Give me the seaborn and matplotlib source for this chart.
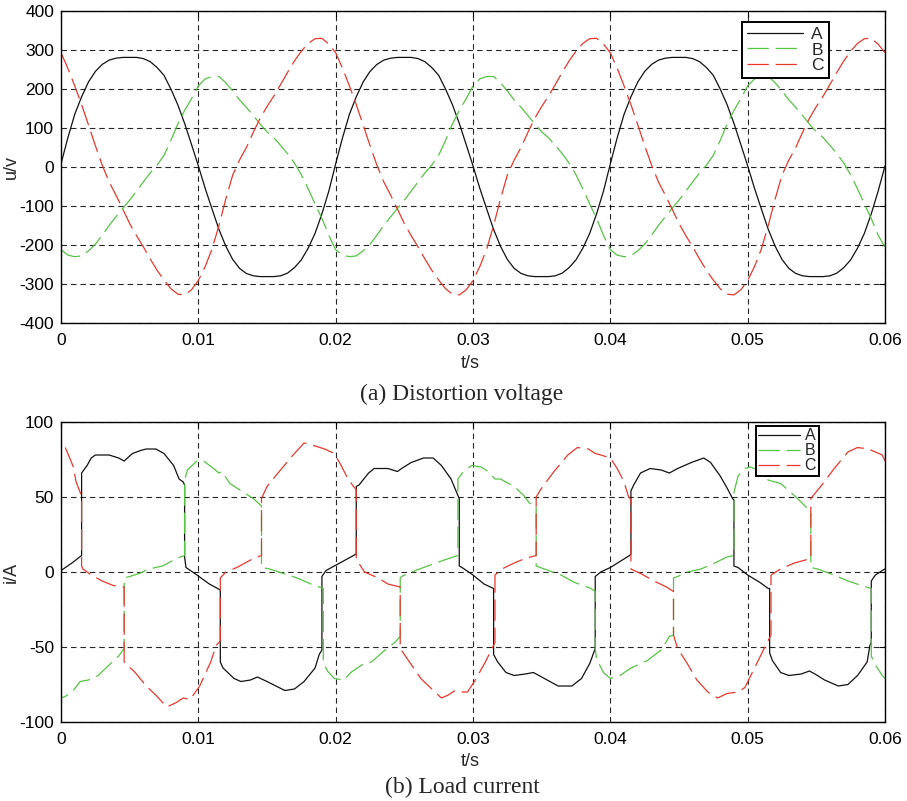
import numpy as np
import pandas as pd
import matplotlib
matplotlib.use("Agg")
import matplotlib.pyplot as plt
import seaborn as sns

# ---------------- (a) distortion voltage, one sample every 0.5 ms ----------------
t_volt = np.linspace(0.0, 0.06, 121)

u_a = [8, 75, 135, 180, 218, 245, 263, 274, 279, 281, 281, 281, 278, 270, 255, 235, 200, 160, 112, 58,
       3, -55, -108, -160, -203, -237, -260, -273, -279, -281, -281, -281, -279, -272, -258, -238, -208, -170, -120, -62,
       8, 75, 135, 180, 218, 245, 263, 274, 279, 281, 281, 281, 278, 270, 255, 235, 200, 160, 112, 58,
       3, -55, -108, -160, -203, -237, -260, -273, -279, -281, -281, -281, -279, -272, -258, -238, -208, -170, -120, -62,
       8, 75, 135, 180, 218, 245, 263, 274, 279, 281, 281, 281, 278, 270, 255, 235, 200, 160, 112, 58,
       3, -55, -108, -160, -203, -237, -260, -273, -279, -281, -281, -281, -279, -272, -258, -238, -208, -170, -120, -62,
       3]

u_b = [-212, -226, -230, -228, -215, -198, -175, -150, -128, -106, -85, -62, -38, -15, 5, 30, 68, 110, 145, 175,
       208, 226, 232, 232, 216, 195, 172, 153, 132, 110, 90, 75, 55, 34, 10, -20, -56, -95, -132, -175,
       -212, -226, -230, -228, -215, -198, -175, -150, -128, -106, -85, -62, -38, -15, 5, 30, 68, 110, 145, 175,
       208, 226, 232, 232, 216, 195, 172, 153, 132, 110, 90, 75, 55, 34, 10, -20, -56, -95, -132, -175,
       -212, -226, -230, -228, -215, -198, -175, -150, -128, -106, -85, -62, -38, -15, 5, 30, 68, 110, 145, 175,
       208, 226, 232, 232, 216, 195, 172, 153, 132, 110, 90, 75, 55, 34, 10, -20, -56, -95, -132, -175,
       -205]

u_c = [293, 253, 208, 160, 108, 55, 5, -38, -72, -108, -145, -176, -205, -236, -265, -290, -312, -326, -328, -315,
       -291, -255, -210, -150, -82, -21, 18, 50, 89, 125, 155, 182, 212, 243, 272, 297, 317, 329, 330, 315,
       293, 253, 208, 160, 108, 55, 5, -38, -72, -108, -145, -176, -205, -236, -265, -290, -312, -326, -328, -315,
       -291, -255, -210, -150, -82, -21, 18, 50, 89, 125, 155, 182, 212, 243, 272, 297, 317, 329, 330, 315,
       293, 253, 208, 160, 108, 55, 5, -38, -72, -108, -145, -176, -205, -236, -265, -290, -312, -326, -328, -315,
       -291, -255, -210, -150, -82, -21, 18, 50, 89, 125, 155, 182, 212, 243, 272, 297, 317, 329, 330, 315,
       293]

# ---------------- (b) load current, breakpoints (time s, current A) ----------------
ia_t = [0, 0.0008, 0.0015, 0.0015, 0.0019, 0.0022, 0.0025, 0.0035, 0.0042, 0.0046, 0.0052, 0.0058, 0.0062, 0.0069,
        0.0075, 0.0082, 0.0086, 0.0089, 0.0090, 0.0090, 0.0091, 0.0099, 0.0108, 0.0116, 0.0116, 0.0118, 0.0126,
        0.0131, 0.0138, 0.0143, 0.0150, 0.0163, 0.0170, 0.0177, 0.0185, 0.0188, 0.0190, 0.0190, 0.0193, 0.0199,
        0.0207, 0.0215, 0.0215, 0.0217, 0.0224, 0.0228, 0.0238, 0.0245, 0.0248, 0.0255, 0.0264, 0.0271, 0.0277,
        0.0284, 0.0289, 0.0290, 0.0290, 0.0292, 0.0300, 0.0308, 0.0315, 0.0315, 0.0318, 0.0324, 0.0330, 0.0338,
        0.0344, 0.0350, 0.0362, 0.0372, 0.0379, 0.0385, 0.0389, 0.0389, 0.0393, 0.0400, 0.0407, 0.0414, 0.0415,
        0.0415, 0.0417, 0.0422, 0.0429, 0.0437, 0.0443, 0.0449, 0.0459, 0.0468, 0.0473, 0.0480, 0.0485, 0.0489,
        0.0490, 0.0490, 0.0493, 0.0500, 0.0509, 0.0515, 0.0516, 0.0516, 0.0518, 0.0524, 0.0530, 0.0539, 0.0545,
        0.0549, 0.0556, 0.0566, 0.0573, 0.0580, 0.0587, 0.0589, 0.0590, 0.0590, 0.0593, 0.0598, 0.0600]
ia = [1, 6, 11, 66, 71, 76, 78, 78, 76, 74, 79, 81, 82, 82,
      79, 71, 62, 60, 58, 10, 3, -2, -8, -12, -60, -64, -71,
      -73, -72, -70, -73, -79, -78, -73, -64, -55, -52, -3, 1, 4,
      8, 12, 57, 58, 66, 69, 69, 67, 69, 73, 76, 76, 71,
      62, 51, 49, 4, 3, -2, -8, -11, -55, -60, -67, -69, -68,
      -67, -70, -76, -76, -71, -61, -51, -3, 0, 3, 7, 11, 12,
      54, 58, 66, 69, 68, 66, 69, 73, 76, 73, 64, 56, 49,
      48, 4, 3, -2, -7, -11, -11, -54, -59, -67, -69, -68, -66,
      -68, -72, -76, -75, -69, -60, -49, -47, -6, -2, 1, 2]

ib_t = [0, 0, 0.0003, 0.0008, 0.0014, 0.0020, 0.0027, 0.0035, 0.0042, 0.0046, 0.0046, 0.0050, 0.0057, 0.0064,
        0.0074, 0.0084, 0.0090, 0.0090, 0.0092, 0.0099, 0.0104, 0.0111, 0.0115, 0.0117, 0.0123, 0.0133, 0.0140,
        0.0146, 0.0146, 0.0152, 0.0162, 0.0172, 0.0182, 0.0191, 0.0191, 0.0194, 0.0199, 0.0206, 0.0211, 0.0219,
        0.0226, 0.0236, 0.0243, 0.0247, 0.0247, 0.0248, 0.0258, 0.0267, 0.0279, 0.0289, 0.0289, 0.0293, 0.0299,
        0.0306, 0.0311, 0.0316, 0.0320, 0.0330, 0.0337, 0.0341, 0.0346, 0.0346, 0.0352, 0.0364, 0.0374, 0.0386,
        0.0389, 0.0389, 0.0390, 0.0395, 0.0400, 0.0407, 0.0415, 0.0420, 0.0427, 0.0437, 0.0443, 0.0446, 0.0446,
        0.0449, 0.0456, 0.0466, 0.0476, 0.0485, 0.0490, 0.0490, 0.0493, 0.0498, 0.0502, 0.0510, 0.0513, 0.0516,
        0.0524, 0.0534, 0.0544, 0.0546, 0.0546, 0.0551, 0.0563, 0.0573, 0.0583, 0.0590, 0.0590, 0.0593, 0.0598,
        0.0600]
ib = [0, -84, -83, -80, -73, -72, -69, -62, -56, -51, -4, -3, -1, 2,
      4, 9, 11, 61, 68, 74, 74, 69, 66, 67, 59, 53, 49,
      44, 3, 2, -1, -4, -8, -11, -60, -66, -71, -72, -67, -62,
      -60, -52, -47, -43, -4, -3, 1, 4, 8, 11, 62, 67, 71,
      70, 67, 62, 62, 57, 51, 46, 44, 4, 2, -2, -7, -11,
      -13, -51, -58, -67, -71, -69, -64, -62, -59, -52, -43, -42, -4,
      -3, 0, 2, 6, 10, 11, 53, 64, 69, 70, 67, 62, 61,
      59, 51, 42, 40, 3, 2, -2, -6, -9, -11, -56, -62, -69,
      -71]

ic_t = [0, 0, 0.0003, 0.0005, 0.0009, 0.0011, 0.0014, 0.0015, 0.0015, 0.0016, 0.0022, 0.0030, 0.0038, 0.0046,
        0.0046, 0.0054, 0.0062, 0.0069, 0.0077, 0.0084, 0.0089, 0.0094, 0.0101, 0.0109, 0.0113, 0.0116, 0.0116,
        0.0120, 0.0128, 0.0138, 0.0146, 0.0146, 0.0150, 0.0158, 0.0168, 0.0177, 0.0185, 0.0192, 0.0199, 0.0204,
        0.0209, 0.0213, 0.0215, 0.0215, 0.0216, 0.0221, 0.0231, 0.0238, 0.0247, 0.0247, 0.0253, 0.0262, 0.0270,
        0.0277, 0.0282, 0.0287, 0.0292, 0.0296, 0.0301, 0.0309, 0.0316, 0.0316, 0.0321, 0.0330, 0.0338, 0.0346,
        0.0346, 0.0350, 0.0359, 0.0369, 0.0376, 0.0384, 0.0389, 0.0393, 0.0400, 0.0405, 0.0410, 0.0413, 0.0415,
        0.0415, 0.0422, 0.0434, 0.0441, 0.0446, 0.0446, 0.0449, 0.0456, 0.0463, 0.0471, 0.0478, 0.0485, 0.0493,
        0.0498, 0.0505, 0.0512, 0.0517, 0.0517, 0.0524, 0.0534, 0.0546, 0.0546, 0.0554, 0.0563, 0.0573, 0.0580,
        0.0588, 0.0593, 0.0598, 0.0600]
ic = [0, 88, 83, 79, 70, 60, 53, 50, 4, 2, -2, -6, -9, -10,
      -60, -67, -76, -82, -90, -87, -84, -85, -76, -60, -49, -46, -4,
      0, 3, 8, 11, 49, 57, 66, 77, 86, 84, 82, 79, 71,
      62, 57, 55, 9, 7, 0, -4, -8, -10, -51, -59, -71, -78,
      -84, -82, -79, -80, -80, -73, -60, -47, -2, 2, 6, 9, 11,
      50, 56, 67, 78, 83, 82, 79, 78, 76, 69, 60, 51, 48,
      2, -1, -7, -10, -13, -42, -51, -61, -72, -80, -84, -81, -80,
      -77, -64, -51, -42, -2, 2, 6, 9, 49, 58, 69, 80, 83,
      82, 80, 78, 74]

phases = ["A", "B", "C"]
volt_ticks = [400, 300, 200, 100, 0, -100, -200, -300, -400]
curr_ticks = [100, 50, 0, -50, -100]
time_ticks = [0, 0.01, 0.02, 0.03, 0.04, 0.05, 0.06]
time_labels = ["0", "0.01", "0.02", "0.03", "0.04", "0.05", "0.06"]

# ---------------- styling ----------------
sns.set_style("white")
plt.rcParams["font.family"] = ["Liberation Sans", "DejaVu Sans"]
plt.rcParams["axes.linewidth"] = 1.0

colors = {"A": "#111111", "B": "#55c444", "C": "#e8382c"}
styles = {"A": "-", "B": (0, (17, 5.5)), "C": (0, (17, 5.5))}

W, H = 907, 801
fig = plt.figure(figsize=(W / 100, H / 100), dpi=100)
ax1 = fig.add_axes([61 / W, 1 - 323 / H, 824 / W, 312 / H])
ax2 = fig.add_axes([61 / W, 1 - 722 / H, 824 / W, 300 / H])

df_volt = pd.DataFrame({"t": t_volt, "A": u_a, "B": u_b, "C": u_c})
for p in phases:
    sns.lineplot(data=df_volt, x="t", y=p, ax=ax1, color=colors[p], linewidth=0.9,
                 linestyle=styles[p], estimator=None, sort=False, label=p)

curr_frames = {
    "A": pd.DataFrame({"t": ia_t, "i": ia}),
    "B": pd.DataFrame({"t": ib_t, "i": ib}),
    "C": pd.DataFrame({"t": ic_t, "i": ic}),
}
for p in phases:
    sns.lineplot(data=curr_frames[p], x="t", y="i", ax=ax2, color=colors[p], linewidth=0.9,
                 linestyle=styles[p], estimator=None, sort=False, label=p)


def style_axes(ax, yticks, ylabel):
    ax.set_xlim(0, 0.06)
    ax.set_ylim(yticks[-1], yticks[0])
    ax.set_xticks(time_ticks)
    ax.set_xticklabels(time_labels)
    ax.set_yticks(yticks)
    ax.set_yticklabels([str(v) for v in yticks])
    ax.set_xlabel("")
    ax.set_ylabel(ylabel, fontsize=13)
    ax.yaxis.set_label_coords(-0.050, 0.5)
    ax.grid(True, color="black", linestyle=(0, (5, 3.5)), linewidth=0.8, alpha=0.85)
    ax.set_axisbelow(True)
    ax.tick_params(direction="in", length=4, width=0.8, top=True, right=True,
                   labelsize=12.5, colors="black")
    ax.tick_params(axis="x", pad=7)
    ax.tick_params(axis="y", pad=5)
    for s in ax.spines.values():
        s.set_visible(True)
        s.set_color("black")
        s.set_linewidth(1.0)


style_axes(ax1, volt_ticks, "u/v")
style_axes(ax2, curr_ticks, "i/A")

leg1 = ax1.legend(loc="upper left", bbox_to_anchor=((742 - 61) / 824, (323 - 22) / 312),
                  frameon=True, fancybox=False, edgecolor="black", framealpha=1, fontsize=12.5,
                  handlelength=3.2, handletextpad=0.5, labelspacing=0.0, borderpad=0.3,
                  borderaxespad=0)
leg1.get_frame().set_linewidth(1.4)

leg2 = ax2.legend(loc="upper left", bbox_to_anchor=((756 - 61) / 824, (722 - 426) / 300),
                  frameon=True, fancybox=False, edgecolor="black", framealpha=1, fontsize=11.5,
                  handlelength=2.6, handletextpad=0.3, labelspacing=0.0, borderpad=0.15,
                  borderaxespad=0)
leg2.get_frame().set_linewidth(1.4)

# axis titles and captions
fig.text(470 / W, 1 - 364 / H, "t/s", ha="center", va="center", fontsize=13)
fig.text(462 / W, 1 - 400 / H, "(a) Distortion voltage", ha="center", va="baseline",
         fontsize=17, family=["Liberation Serif", "DejaVu Serif"])
fig.text(470 / W, 1 - 762 / H, "t/s", ha="center", va="center", fontsize=13)
fig.text(462 / W, 1 - 793 / H, "(b) Load current", ha="center", va="baseline",
         fontsize=17, family=["Liberation Serif", "DejaVu Serif"])

fig.savefig("out.png", dpi=100)
